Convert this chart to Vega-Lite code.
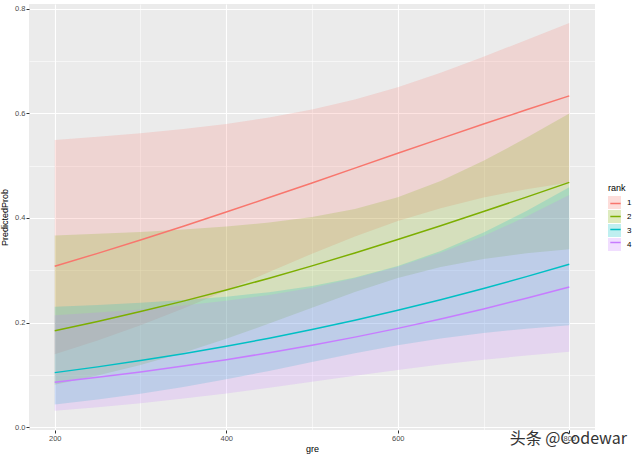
{
  "$schema": "https://vega.github.io/schema/vega-lite/v6.json",
  "autosize": "none",
  "width": 566,
  "height": 426,
  "padding": {"left": 29, "top": 4, "right": 45, "bottom": 27},
  "background": "white",
  "config": {
    "view": {"fill": "#EBEBEB", "stroke": null},
    "font": "Liberation Sans",
    "axis": {
      "domain": false,
      "gridColor": "white",
      "tickColor": "#333333",
      "tickSize": 3,
      "labelColor": "#4D4D4D",
      "labelFontSize": 7.5,
      "labelPadding": 1,
      "titleFontSize": 9,
      "titleFontWeight": "normal",
      "titleColor": "#000000"
    },
    "legend": {
      "titleFontSize": 9,
      "titleFontWeight": "normal",
      "labelFontSize": 8,
      "labelColor": "#000000"
    }
  },
  "title": {
    "text": "头条 @Codewar",
    "orient": "bottom",
    "anchor": "end",
    "frame": "group",
    "font": "Noto Sans CJK SC",
    "fontSize": 16,
    "fontWeight": "normal",
    "color": "#333333",
    "dx": 32,
    "offset": -23
  },
  "data": {
    "values": [
      {"gre": 200, "rank": "1", "PredictedProb": 0.3075, "LL": 0.1393, "UL": 0.5492},
      {"gre": 250, "rank": "1", "PredictedProb": 0.3322, "LL": 0.1655, "UL": 0.5550},
      {"gre": 300, "rank": "1", "PredictedProb": 0.3577, "LL": 0.1949, "UL": 0.5617},
      {"gre": 350, "rank": "1", "PredictedProb": 0.3841, "LL": 0.2270, "UL": 0.5698},
      {"gre": 400, "rank": "1", "PredictedProb": 0.4112, "LL": 0.2613, "UL": 0.5796},
      {"gre": 450, "rank": "1", "PredictedProb": 0.4389, "LL": 0.2967, "UL": 0.5919},
      {"gre": 500, "rank": "1", "PredictedProb": 0.4669, "LL": 0.3316, "UL": 0.6073},
      {"gre": 550, "rank": "1", "PredictedProb": 0.4952, "LL": 0.3645, "UL": 0.6265},
      {"gre": 600, "rank": "1", "PredictedProb": 0.5235, "LL": 0.3939, "UL": 0.6500},
      {"gre": 650, "rank": "1", "PredictedProb": 0.5516, "LL": 0.4187, "UL": 0.6775},
      {"gre": 700, "rank": "1", "PredictedProb": 0.5794, "LL": 0.4389, "UL": 0.7081},
      {"gre": 750, "rank": "1", "PredictedProb": 0.6067, "LL": 0.4550, "UL": 0.7403},
      {"gre": 800, "rank": "1", "PredictedProb": 0.6334, "LL": 0.4677, "UL": 0.7726},
      {"gre": 200, "rank": "2", "PredictedProb": 0.1844, "LL": 0.0812, "UL": 0.3662},
      {"gre": 250, "rank": "2", "PredictedProb": 0.2020, "LL": 0.0986, "UL": 0.3695},
      {"gre": 300, "rank": "2", "PredictedProb": 0.2209, "LL": 0.1189, "UL": 0.3733},
      {"gre": 350, "rank": "2", "PredictedProb": 0.2409, "LL": 0.1423, "UL": 0.3778},
      {"gre": 400, "rank": "2", "PredictedProb": 0.2623, "LL": 0.1688, "UL": 0.3836},
      {"gre": 450, "rank": "2", "PredictedProb": 0.2847, "LL": 0.1979, "UL": 0.3911},
      {"gre": 500, "rank": "2", "PredictedProb": 0.3083, "LL": 0.2284, "UL": 0.4017},
      {"gre": 550, "rank": "2", "PredictedProb": 0.3330, "LL": 0.2583, "UL": 0.4171},
      {"gre": 600, "rank": "2", "PredictedProb": 0.3586, "LL": 0.2850, "UL": 0.4395},
      {"gre": 650, "rank": "2", "PredictedProb": 0.3850, "LL": 0.3062, "UL": 0.4704},
      {"gre": 700, "rank": "2", "PredictedProb": 0.4122, "LL": 0.3216, "UL": 0.5091},
      {"gre": 750, "rank": "2", "PredictedProb": 0.4398, "LL": 0.3325, "UL": 0.5531},
      {"gre": 800, "rank": "2", "PredictedProb": 0.4679, "LL": 0.3403, "UL": 0.5998},
      {"gre": 200, "rank": "3", "PredictedProb": 0.1042, "LL": 0.0433, "UL": 0.2302},
      {"gre": 250, "rank": "3", "PredictedProb": 0.1152, "LL": 0.0527, "UL": 0.2337},
      {"gre": 300, "rank": "3", "PredictedProb": 0.1273, "LL": 0.0638, "UL": 0.2378},
      {"gre": 350, "rank": "3", "PredictedProb": 0.1404, "LL": 0.0767, "UL": 0.2429},
      {"gre": 400, "rank": "3", "PredictedProb": 0.1546, "LL": 0.0914, "UL": 0.2495},
      {"gre": 450, "rank": "3", "PredictedProb": 0.1700, "LL": 0.1075, "UL": 0.2581},
      {"gre": 500, "rank": "3", "PredictedProb": 0.1865, "LL": 0.1245, "UL": 0.2699},
      {"gre": 550, "rank": "3", "PredictedProb": 0.2043, "LL": 0.1413, "UL": 0.2861},
      {"gre": 600, "rank": "3", "PredictedProb": 0.2233, "LL": 0.1567, "UL": 0.3080},
      {"gre": 650, "rank": "3", "PredictedProb": 0.2436, "LL": 0.1696, "UL": 0.3367},
      {"gre": 700, "rank": "3", "PredictedProb": 0.2651, "LL": 0.1800, "UL": 0.3720},
      {"gre": 750, "rank": "3", "PredictedProb": 0.2877, "LL": 0.1881, "UL": 0.4130},
      {"gre": 800, "rank": "3", "PredictedProb": 0.3114, "LL": 0.1946, "UL": 0.4585},
      {"gre": 200, "rank": "4", "PredictedProb": 0.0860, "LL": 0.0315, "UL": 0.2140},
      {"gre": 250, "rank": "4", "PredictedProb": 0.0953, "LL": 0.0381, "UL": 0.2191},
      {"gre": 300, "rank": "4", "PredictedProb": 0.1056, "LL": 0.0458, "UL": 0.2251},
      {"gre": 350, "rank": "4", "PredictedProb": 0.1168, "LL": 0.0546, "UL": 0.2324},
      {"gre": 400, "rank": "4", "PredictedProb": 0.1289, "LL": 0.0644, "UL": 0.2414},
      {"gre": 450, "rank": "4", "PredictedProb": 0.1422, "LL": 0.0752, "UL": 0.2526},
      {"gre": 500, "rank": "4", "PredictedProb": 0.1566, "LL": 0.0866, "UL": 0.2667},
      {"gre": 550, "rank": "4", "PredictedProb": 0.1721, "LL": 0.0980, "UL": 0.2845},
      {"gre": 600, "rank": "4", "PredictedProb": 0.1888, "LL": 0.1092, "UL": 0.3065},
      {"gre": 650, "rank": "4", "PredictedProb": 0.2068, "LL": 0.1196, "UL": 0.3335},
      {"gre": 700, "rank": "4", "PredictedProb": 0.2260, "LL": 0.1288, "UL": 0.3655},
      {"gre": 750, "rank": "4", "PredictedProb": 0.2464, "LL": 0.1369, "UL": 0.4025},
      {"gre": 800, "rank": "4", "PredictedProb": 0.2680, "LL": 0.1439, "UL": 0.4436}
    ]
  },
  "encoding": {
    "x": {
      "field": "gre",
      "type": "quantitative",
      "title": "gre",
      "scale": {"domain": [170, 830], "nice": false, "zero": false},
      "axis": {
        "values": [200, 300, 400, 500, 600, 700, 800],
        "labelExpr": "datum.value % 200 === 0 ? datum.label : ''",
        "gridWidth": {"condition": {"test": "datum.value % 200 === 0", "value": 1.1}, "value": 0.55},
        "tickOpacity": {"condition": {"test": "datum.value % 200 === 0", "value": 1}, "value": 0},
        "titlePadding": 3
      }
    }
  },
  "layer": [
    {
      "mark": {"type": "area", "fillOpacity": 0.2},
      "encoding": {
        "y": {
          "field": "LL",
          "type": "quantitative",
          "title": "PredictedProb",
          "scale": {"domain": [-0.0055, 0.809], "nice": false, "zero": false},
          "axis": {
            "values": [0, 0.1, 0.2, 0.3, 0.4, 0.5, 0.6, 0.7, 0.8],
            "format": ".1f",
            "labelExpr": "round(datum.value * 10) % 2 === 0 ? datum.label : ''",
            "gridWidth": {"condition": {"test": "round(datum.value * 10) % 2 === 0", "value": 1.1}, "value": 0.55},
            "tickOpacity": {"condition": {"test": "round(datum.value * 10) % 2 === 0", "value": 1}, "value": 0},
            "titlePadding": 5
          }
        },
        "y2": {"field": "UL"},
        "fill": {
          "field": "rank",
          "type": "nominal",
          "scale": {"domain": ["1", "2", "3", "4"], "range": ["#F8766D", "#7CAE00", "#00BFC4", "#C77CFF"]},
          "legend": {
            "orient": "none",
            "legendX": 579,
            "legendY": 180,
            "title": "rank",
            "symbolType": "square",
            "symbolSize": 169,
            "symbolOpacity": 0.25,
            "symbolStrokeWidth": 0,
            "rowPadding": 1,
            "labelOffset": 6,
            "titlePadding": 3
          }
        }
      }
    },
    {
      "mark": {"type": "line", "strokeWidth": 1.5},
      "encoding": {
        "y": {"field": "PredictedProb", "type": "quantitative"},
        "stroke": {
          "field": "rank",
          "type": "nominal",
          "scale": {"range": ["#F8766D", "#7CAE00", "#00BFC4", "#C77CFF"]},
          "legend": {
            "orient": "none",
            "legendX": 579,
            "legendY": 192,
            "title": null,
            "labelExpr": "''",
            "symbolType": "M-0.8,0H0.8",
            "symbolSize": 169,
            "symbolStrokeWidth": 1.5,
            "rowPadding": 1,
            "labelOffset": 6
          }
        }
      }
    }
  ]
}
